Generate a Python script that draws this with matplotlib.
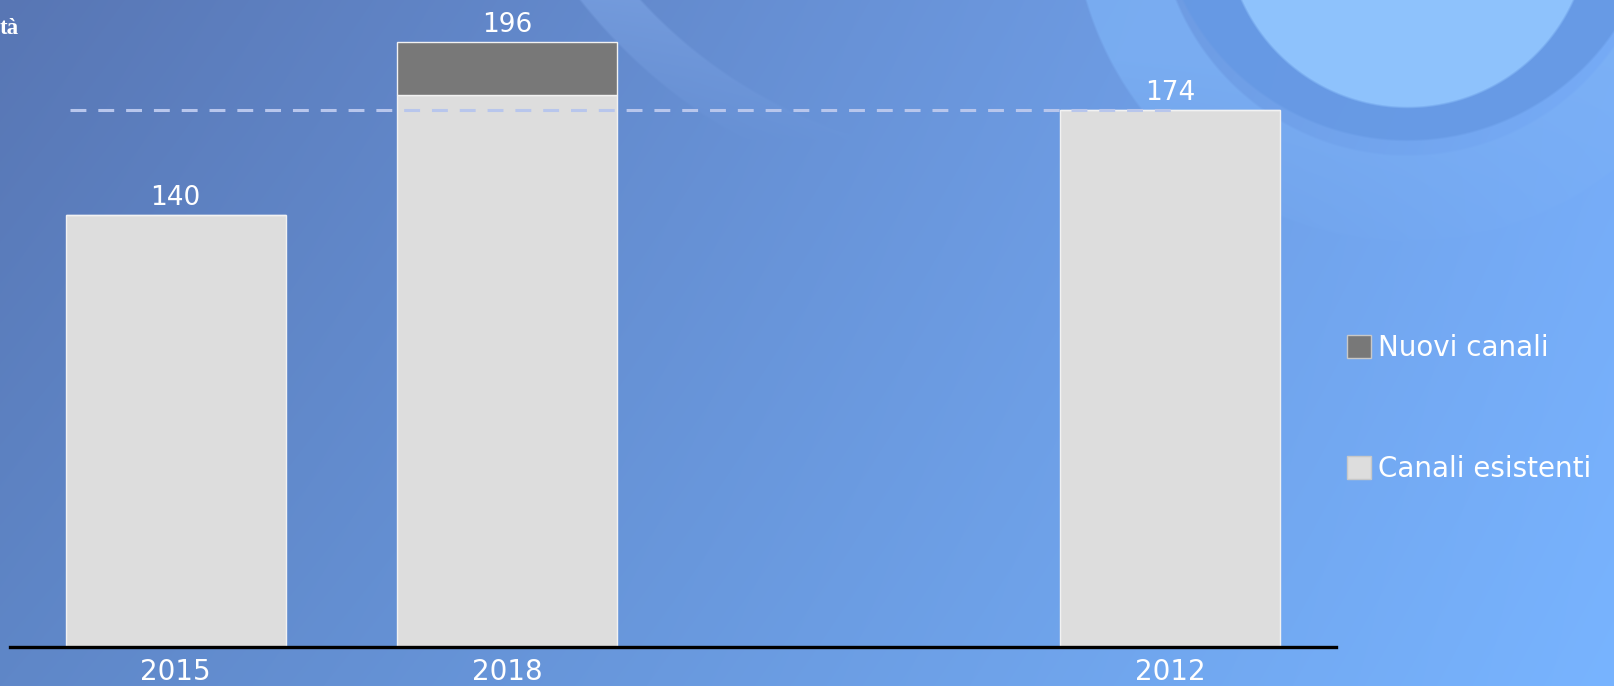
"""
Stacked bar chart: Canali esistenti / Nuovi canali, on a blue slide background.
"""
import matplotlib.pyplot as plt
import matplotlib.patches as mpatches
import numpy as np

# data
years = ['2015', '2018', '2012']
x_pos = [0, 1, 3]          # slot 2 is left empty
existing = [140, 179, 174]
new = [0, 17, 0]
ref_level = 174            # dashed reference line

W, H = 1615, 686
fig = plt.figure(figsize=(W / 100, H / 100), dpi=100)

# ---- background: diagonal blue gradient with soft rings top right ----
yy, xx = np.mgrid[0:H, 0:W].astype(float)
u = xx / W
v = yy / H
tl = np.array([88, 118, 180])
tr = np.array([118, 170, 245])
bl = np.array([95, 135, 200])
br = np.array([120, 180, 255])
img = (tl * ((1 - u) * (1 - v))[..., None] + tr * (u * (1 - v))[..., None]
       + bl * ((1 - u) * v)[..., None] + br * (u * v)[..., None])


def blend(img, mask, color, alpha=1.0):
    m = (mask * alpha)[..., None]
    return img * (1 - m) + np.array(color) * m


def ring(cx, cy, r0, r1, soft=2.5):
    d = np.hypot(xx - cx, yy - cy)
    a = np.clip((d - r0) / soft + 0.5, 0, 1)
    b = np.clip((r1 - d) / soft + 0.5, 0, 1)
    return a * b


cx, cy = 1407, -75
fade_out = np.clip(1 - (yy - 60) / 200, 0, 1)
img = blend(img, ring(cx, cy - 20, 250, 335) * fade_out, (125, 178, 246), 0.75)
img = blend(img, ring(cx, cy - 35, 0, 250), (102, 153, 228), 0.9)
img = blend(img, ring(cx, cy, -1, 182), (142, 194, 252), 1.0)
fade = np.clip(1 - yy / 140, 0, 1) * np.clip((900 - xx) / 60, 0, 1)
img = blend(img, ring(1000, -330, 488, 534) * fade, (128, 168, 232), 0.55)

bg = fig.add_axes([0, 0, 1, 1], zorder=-1)
bg.imshow(np.clip(img, 0, 255).astype(np.uint8), extent=(0, W, H, 0), aspect='auto')
bg.axis('off')

# ---- main axes ----
px_per_unit = 432 / 140
ax = fig.add_axes([10 / W, (H - 647) / H, 1326 / W, 647 / H])
ax.patch.set_alpha(0)
ax.set_xlim(-0.5, 3.5)
ax.set_ylim(0, 647 / px_per_unit)

bar_w = 0.665
ax.bar(x_pos, existing, bar_w, color='#dddddd', edgecolor='#f2f2f2', linewidth=1, zorder=2)
ax.bar(x_pos, new, bar_w, bottom=existing, color='#787878', edgecolor='#f2f2f2',
       linewidth=1, zorder=2)

for x, e, n in zip(x_pos, existing, new):
    ax.annotate(f'{e + n}', (x, e + n), xytext=(0, 3), textcoords='offset points',
                ha='center', va='bottom', color='white', fontsize=19,
                family='DejaVu Sans')

ax.hlines(ref_level, -0.32, 3.03, colors='#b8c6ec', linewidth=2.2,
          linestyles=(0, (5.2, 3.9)), zorder=3)

ax.set_xticks(x_pos)
ax.set_xticklabels(years, color='white', fontsize=20)
ax.tick_params(axis='x', length=0, pad=8)
ax.set_yticks([])
for s in ['top', 'right', 'left']:
    ax.spines[s].set_visible(False)
ax.spines['bottom'].set_color('black')
ax.spines['bottom'].set_linewidth(2.4)
ax.spines['bottom'].set_zorder(4)

# ---- legend ----
handles = [mpatches.Patch(facecolor='#787878', edgecolor='#c8c8c8', label='Nuovi canali'),
           mpatches.Patch(facecolor='#dddddd', edgecolor='#c8c8c8', label='Canali esistenti')]
leg = fig.legend(handles=handles, loc='center left', bbox_to_anchor=(1347 / W, 1 - 408.5 / H),
                 frameon=False, fontsize=20, labelcolor='white', handlelength=0.86,
                 handleheight=0.86, handletextpad=0.25, labelspacing=3.35,
                 borderpad=0, borderaxespad=0)

# cut-off title fragment at top left
fig.text(0, 1 - 28 / H, 'tà', color='white', fontsize=16.5, fontweight='bold',
         family='Liberation Serif', ha='left', va='center')

fig.savefig('out.png', dpi=100)
